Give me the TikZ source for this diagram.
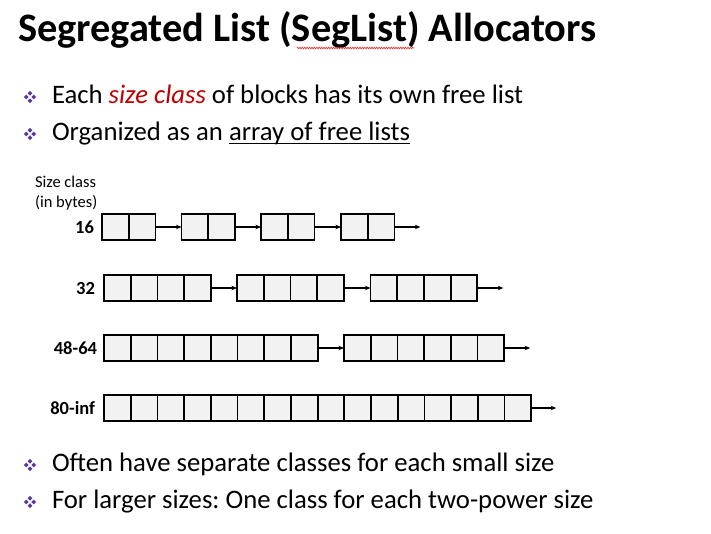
\documentclass[tikz,border=0pt]{standalone}
\usepackage{fontspec}
\setmainfont{Carlito}
\usetikzlibrary{arrows.meta,decorations.pathmorphing}

\definecolor{bulletpurple}{HTML}{5A3A9A}
\definecolor{cellgray}{HTML}{F2F2F2}
\definecolor{emred}{HTML}{C00000}
\definecolor{squiggle}{HTML}{E03030}

\newlength\cellw
\setlength\cellw{26.7pt}

% underlined text with a solid rule a little below the baseline
\newcommand\ulword[1]{\setbox0\hbox{#1}\rlap{\rule[-3.8pt]{\wd0}{1.3pt}}\box0}

% a memory block of #4 cells: name, left x, top y, cells
\newcommand\memblock[4]{%
  \node[blk, minimum width=#4*\cellw, anchor=north west] (#1) at (#2,#3) {};
  \pgfmathtruncatemacro\lastdiv{#4-1}%
  \foreach \k in {1,...,\lastdiv}{%
    \draw[blkline] ([xshift=\k*\cellw]#1.north west) -- ([xshift=\k*\cellw]#1.south west);}%
}

\tikzset{
  blk/.style={draw=black, fill=cellgray, line width=1.8pt, minimum height=26pt,
              inner sep=0pt, outer sep=0pt, rectangle},
  blkline/.style={draw=black, line width=1.8pt},
  link/.style={draw=black, line width=1.3pt, -{Stealth[length=5.5pt,width=4.5pt]}},
  txt/.style={inner sep=0pt, outer sep=0pt, anchor=base west},
  bullettext/.style={txt, font=\fontsize{26.7}{32}\selectfont},
  smalltext/.style={txt, font=\fontsize{16.5}{20}\selectfont},
  rowlabel/.style={inner sep=0pt, outer sep=0pt, anchor=east,
                   font=\fontsize{18.5}{22}\selectfont\bfseries},
  bulletmark/.pic={
    \foreach \dx/\dy in {-3.7/0, 3.7/0, 0/-3.7, 0/3.7}
      \fill[bulletpurple] (\dx-2.4,\dy) -- (\dx,\dy-2.4) -- (\dx+2.4,\dy) -- (\dx,\dy+2.4) -- cycle;
  }
}

\begin{document}
\frenchspacing
\begin{tikzpicture}[x=1pt,y=-1pt]
\useasboundingbox (0,0) rectangle (711,533);
\fill[white] (0,0) rectangle (711,533);

% title
\node[txt, font=\fontsize{40.4}{48}\selectfont\bfseries] (title) at (18,41)
  {Segregated List (SegList) Allocators};
\draw[squiggle, line width=0.6pt, decorate,
      decoration={zigzag, amplitude=0.9pt, segment length=2.4pt}]
  (297,48) -- (414,48);

% upper bullets
\pic at (30,97) {bulletmark};
\node[bullettext] (b1) at (52,103)
  {Each \textcolor{emred}{\itshape size class} of blocks has its own free list};
\pic at (30,134) {bulletmark};
\node[bullettext] (b2) at (52,140) {Organized as an \ulword{array of free lists}};

% axis caption
\node[smalltext] (hdr1) at (35,187) {Size class};
\node[smalltext] (hdr2) at (35,207) {(in bytes)};

% size class 16
\node[rowlabel] (l16) at (94,227) {16};
\memblock{a1}{102}{214}{2}
\memblock{a2}{181.5}{214}{2}
\memblock{a3}{261}{214}{2}
\memblock{a4}{341}{214}{2}
\coordinate (a5) at ([xshift=26pt]a4.east);
\draw[link] (a1.east) -- (a2.west);
\draw[link] (a2.east) -- (a3.west);
\draw[link] (a3.east) -- (a4.west);
\draw[link] (a4.east) -- (a5);

% size class 32
\node[rowlabel] (l32) at (95,288) {32};
\memblock{c1}{104}{275}{4}
\memblock{c2}{237}{275}{4}
\memblock{c3}{370.5}{275}{4}
\coordinate (c4) at ([xshift=26pt]c3.east);
\draw[link] (c1.east) -- (c2.west);
\draw[link] (c2.east) -- (c3.west);
\draw[link] (c3.east) -- (c4);

% size class 48-64
\node[rowlabel] (l48) at (97,348) {48-64};
\memblock{d1}{104}{335}{8}
\memblock{d2}{344}{335}{6}
\coordinate (d3) at ([xshift=26pt]d2.east);
\draw[link] (d1.east) -- (d2.west);
\draw[link] (d2.east) -- (d3);

% size class 80-inf
\node[rowlabel] (l80) at (95,408) {80-inf};
\memblock{e1}{104}{395}{16}
\coordinate (e2) at ([xshift=25pt]e1.east);
\draw[link] (e1.east) -- (e2);

% lower bullets
\pic at (30,465) {bulletmark};
\node[bullettext] (b3) at (52,471) {Often have separate classes for each small size};
\pic at (30,502) {bulletmark};
\node[bullettext] (b4) at (52,508) {For larger sizes: One class for each two-power size};
\end{tikzpicture}
\end{document}
